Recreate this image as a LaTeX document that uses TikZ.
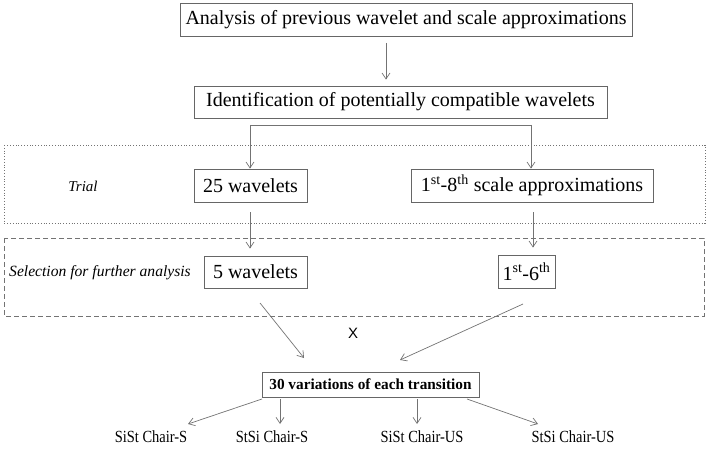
\documentclass[tikz,border=0pt]{standalone}
\usepackage{fontspec}
\setmainfont{Liberation Serif}
\newfontfamily\xsans{Liberation Sans}
\usetikzlibrary{arrows.meta,calc}
\tikzset{
  box/.style={draw=black!60, line width=0.8pt, inner sep=0pt, font=\fontsize{20}{22}\selectfont, anchor=center},
  arr/.style={draw=black!55, line width=0.7pt, -{Straight Barb[length=6pt,width=8pt]}},
  ln/.style={draw=black!55, line width=0.7pt},
  lbl/.style={font=\fontsize{17}{19}\selectfont, inner sep=0pt},
  grp/.style={draw=black!55, line width=0.8pt},
}
\begin{document}
\begin{tikzpicture}[x=1pt,y=-1pt]
\useasboundingbox (0,0) rectangle (714,449);
% group frames
\draw[grp, dotted] (4,145) rectangle (705,223);
\draw[grp, dash pattern=on 5pt off 3pt] (4,238) rectangle (704,316);
% boxes
\node[box, minimum width=452pt, minimum height=33pt] (b1) at (406,20) {Analysis of previous wavelet and scale approximations};
\node[box, minimum width=413pt, minimum height=32pt] (b2) at (400.5,102) {Identification of potentially compatible wavelets};
\node[box, minimum width=113pt, minimum height=33pt] (w25) at (250.5,185.5) {25 wavelets};
\node[box, minimum width=242pt, minimum height=33pt] (s18) at (532,185.5) {1\textsuperscript{st}-8\textsuperscript{th} scale approximations};
\node[box, minimum width=103pt, minimum height=32pt] (w5) at (255.5,272) {5 wavelets};
\node[box, minimum width=57pt, minimum height=33pt] (s16) at (526.5,271.5) {1\textsuperscript{st}-6\textsuperscript{th}};
\node[box, minimum width=217pt, minimum height=25pt, font=\fontsize{15.3}{17}\selectfont\bfseries] (v30) at (370.5,384.5) {30 variations of each transition};
% side labels
\node[font=\fontsize{15}{17}\selectfont\itshape, inner sep=0pt] (tr) at (83,186) {Trial};
\node[font=\fontsize{15.6}{17}\selectfont\itshape, inner sep=0pt] (sel) at (100,273) {Selection for further analysis};
\node[font=\xsans\fontsize{15}{17}\selectfont, inner sep=0pt] (x) at (353,333) {X};
% bottom labels
\node[lbl] (l1) at (151,437) {\scalebox{0.85}[1]{SiSt Chair-S}};
\node[lbl] (l2) at (272,437) {\scalebox{0.85}[1]{StSi Chair-S}};
\node[lbl] (l3) at (422,437) {\scalebox{0.85}[1]{SiSt Chair-US}};
\node[lbl] (l4) at (573,437) {\scalebox{0.85}[1]{StSi Chair-US}};
% connectors
\coordinate (c1) at (386,0);
\draw[arr, shorten <=6pt, shorten >=6pt] (b1.south -| c1) -- (b2.north -| c1);
\coordinate (jl) at (250,125);
\coordinate (jr) at (531,125);
\draw[ln] (jl) -- (jr);
\draw[arr] (jl) -- (w25.north -| jl);
\draw[arr] (jr) -- (s18.north -| jr);
\draw[arr, shorten <=10pt, shorten >=7pt] (w25.south -| jl) -- (w5.north -| jl);
\coordinate (c2) at (533,0);
\draw[arr, shorten <=10pt, shorten >=7pt] (s18.south -| c2) -- (s16.north -| c2);
\coordinate (p1) at (260,303);
\coordinate (q1) at (304,358);
\coordinate (p2) at (523,304);
\coordinate (q2) at (400,360);
\draw[arr] (p1) -- (q1);
\draw[arr] (p2) -- (q2);
% bottom fan
\coordinate (f1) at (262,399); \coordinate (g1) at (188,424);
\coordinate (f2) at (280,399); \coordinate (g2) at (280,424);
\coordinate (f3) at (417,399); \coordinate (g3) at (417,424);
\coordinate (f4) at (467,399); \coordinate (g4) at (538,424);
\draw[arr] (f1) -- (g1);
\draw[arr] (f2) -- (g2);
\draw[arr] (f3) -- (g3);
\draw[arr] (f4) -- (g4);
\end{tikzpicture}
\end{document}
